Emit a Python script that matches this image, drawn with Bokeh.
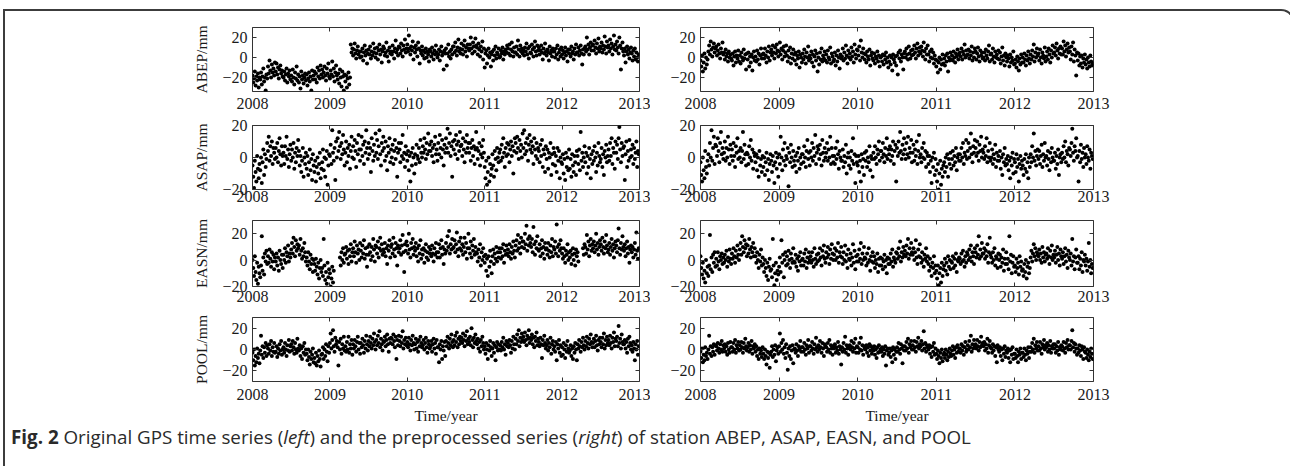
import numpy as np
from bokeh.plotting import figure
from bokeh.layouts import column, row
from bokeh.models import Div, Range1d, FixedTicker, LinearAxis
from bokeh.embed import file_html
from bokeh.resources import INLINE

# ---------------- data (100 samples per year, mm) ----------------
stations = ["ABEP", "ASAP", "EASN", "POOL"]
year_ticks = [2008, 2009, 2010, 2011, 2012, 2013]
y_ticks = [-20, 0, 20]
y_limits = {"ABEP": (-34, 30), "ASAP": (-20, 20), "EASN": (-20, 30), "POOL": (-30, 30)}

abep_original = [
    -18, -25, -21, -14, -28, -19, -23, -16, -30, -20, -22, -15, -27, -19, -11, -24, -20, -33, -17, -21,
    -9, -16, -3, -13, -20, -7, -15, -11, -18, -5, -14, -6, -17, -10, -21, -12, -8, -16, -13, -19,
    -20, -14, -23, -17, -11, -25, -16, -19, -13, -22, -18, -24, -12, -20, -27, -15, -21, -9, -23, -17,
    -25, -19, -31, -14, -22, -18, -26, -20, -16, -23, -17, -28, -21, -15, -24, -19, -33, -13, -22, -18,
    -14, -22, -16, -25, -10, -19, -13, -21, -8, -17, -12, -20, -15, -9, -18, -23, -11, -16, -6, -19,
    -21, -13, -17, -4, -19, -11, -24, -15, -8, -18, -22, -16, -26, -12, -20, -29, -14, -19, -33, -17,
    -24, -18, -30, -21, -15, -27, -20, 13, 5, 9, 2, 8, 14, 4, -1, 7, 11, 3, 6, 0,
    6, 1, 9, -3, 5, 12, 2, 7, -6, 4, 8, 3, 11, -1, 6, 2, 14, 5, 9, 0,
    4, 10, -2, 7, 13, 3, 8, -5, 6, 11, 9, 2, 5, 15, 1, 7, -4, 10, 4, 6,
    3, 12, 6, -1, 9, 17, 5, 8, 2, 11, 10, 4, 14, 7, 1, 12, 8, 18, 5, 9,
    13, 6, 22, 9, 3, 11, 7, 16, -2, 10, 5, 12, 8, 1, 15, 9, -6, 7, 4, 11,
    2, 7, -1, 5, 9, 0, 6, 3, -4, 8, 6, 1, 10, 4, -2, 7, 3, 12, 5, 0,
    3, 8, -3, 6, 11, 2, 5, -12, 7, 4, 9, -8, 4, 13, 1, 6, -1, 8, 3, 11,
    11, 5, 15, 7, 2, 10, 18, 6, 9, 4, 14, 8, 3, 12, 17, 6, 10, 1, 13, 9,
    7, 13, 20, 9, 4, 15, 11, 6, 19, 12, 10, 3, 14, 8, 1, 11, 6, 16, -2, 9,
    -10, 4, 7, -6, 2, 9, 0, 5, -9, 3, 6, -3, 8, 2, 11, -1, 5, 3, 9, 0,
    1, 7, 4, 10, -2, 6, 3, 8, 5, 12, 9, 4, 13, 2, 8, 15, 6, 1, 10, 5,
    5, 11, 3, 17, 8, 1, 12, 6, 9, 4, 7, 2, 10, 6, 14, 3, 9, -1, 11, 5,
    4, 13, 8, 1, 10, 16, 6, 2, 12, 7, 10, 3, 7, 12, 5, -2, 9, 4, 14, 6,
    2, 8, 5, -3, 11, 4, 7, 1, 9, 6, 6, 0, 9, 3, 12, -2, 5, 8, 1, 10,
    3, 7, -1, 5, 10, 2, 6, -4, 8, 4, 8, 1, 11, 4, 6, -2, 9, 3, 13, 5,
    5, 10, 2, 7, 12, 4, -7, 8, 3, 9, 11, 6, 20, 8, 13, 3, 10, 15, 7, 12,
    13, 7, 17, 10, 4, 14, 9, 19, 6, 11, 9, 15, 5, 12, 8, 21, 11, 4, 16, 10,
    12, 6, 18, 9, 14, 3, 11, 22, 8, 13, 7, 16, 10, 4, 20, 12, -12, 9, 15, 6,
    2, 9, -5, 6, 11, 3, 8, -1, 5, 10, 4, -3, 7, 1, 9, -2, 5, 0, -4, 3,
]
abep_processed = [
    -3, -9, 2, -14, -5, 4, -11, 0, -7, -2, 6, 12, 3, 16, 8, 1, 10, 14, 5, 9,
    11, 2, 7, 13, 4, -1, 9, 5, 15, 3, 5, -2, 8, 1, 4, -4, 6, 0, 3, -1,
    -3, 4, -8, 1, 6, -5, 2, -1, 7, -4, 2, -6, 5, 0, -3, 8, -1, 3, -12, 4,
    -2, 5, -9, 1, -5, 3, -13, 0, 6, -3, 1, -4, 7, -2, 4, -7, 2, 9, -1, 3,
    4, -1, 9, 2, -5, 6, 0, 11, -3, 5, 8, 2, 12, 5, -1, 10, 4, 13, 7, 1,
    6, 15, 3, 9, -2, 7, 11, 1, 5, 12, 2, -4, 7, 0, 10, -6, 4, -1, 8, 3,
    -3, 5, -7, 2, -1, 6, -10, 3, 0, -5, 4, -2, 8, 1, -6, 5, 0, 11, -3, 2,
    -1, 6, -5, 3, -9, 1, 7, -3, 4, -14, 0, -7, 5, -2, 9, -4, 2, -1, 6, -3,
    3, -5, 7, 0, -2, 10, -6, 4, 1, -4, -2, 5, -8, 2, -4, 7, 0, -11, 3, -1,
    1, 9, -3, 5, -1, 12, 2, -6, 7, 0, 4, -2, 10, 1, 6, -5, 13, 3, -1, 8,
    7, 2, 11, -3, 17, 5, 0, 9, 4, -2, 3, -5, 6, 1, -2, 8, -8, 2, 5, -1,
    -3, 4, -6, 1, -1, 6, -4, 2, -9, 0, 1, -4, 3, -7, 2, -2, 5, -5, 0, -10,
    -4, 2, -7, 0, -13, 3, -2, -5, 1, -8, 2, -17, 5, -1, 7, -4, 3, 0, -12, 4,
    6, 0, 9, 3, -2, 11, 4, -1, 7, 2, 8, 3, 12, 5, -1, 9, 14, 2, 6, 10,
    4, 11, 7, 1, 15, 6, -2, 9, 3, 12, 3, -4, 6, 0, 8, -1, 5, -6, 2, -2,
    -9, -3, -15, -5, 0, -12, -2, -7, 3, -6, -1, -8, 2, -4, 4, -14, 0, -3, 5, -2,
    2, -3, 6, 0, -5, 4, 1, 8, -2, 3, 5, 1, 9, -2, 6, 3, 13, 0, 7, 2,
    3, 8, -1, 6, 2, 11, -3, 5, 0, 9, 6, -2, 4, 10, 1, -4, 7, 2, 5, -1,
    0, 5, -3, 8, 2, -1, 6, 12, -4, 3, 4, -2, 9, 1, -5, 6, 0, 3, -1, 7,
    -2, 5, -6, 1, 10, -3, 2, -8, 4, 0, -4, 2, -1, -9, 3, -5, 0, -3, 6, -7,
    -6, -2, -10, 1, -4, -13, -1, -7, 3, -5, 0, -5, 4, -2, -8, 2, -3, 6, -1, -6,
    3, -2, 7, 1, 13, -4, 5, 0, 9, 2, 4, -3, 8, 0, -6, 5, 2, -1, 10, -4,
    1, 6, -2, 9, 3, -5, 7, 0, 12, 4, 5, 10, 2, 14, 7, -1, 9, 4, 11, 3,
    9, 3, 16, 6, 12, 1, 8, 14, 5, 10, 6, -2, 11, 3, 15, -4, 8, 2, -18, 5,
    -3, 4, -8, 1, -6, 2, -10, -1, -5, 3, -7, -2, -11, 0, -5, -9, 2, -4, -8, -6,
]
asap_original = [
    -5, -12, -19, -2, -9, -15, 1, -7, -13, -4, -8, 0, -16, -3, 5, -11, 2, -6, -1, 9,
    4, 13, -2, 7, 1, 10, -4, 6, 3, -1, 6, 0, 9, -3, 4, 12, 2, -5, 7, 1,
    3, -4, 7, 1, 13, -1, 5, -6, 2, 8, -2, 5, 0, 9, -7, 3, -3, 6, 1, 11,
    4, -5, 1, -9, -2, 6, -12, 0, -4, 3, -7, 1, -11, -3, 5, -8, -1, -14, 2, -5,
    -9, -2, -15, -6, 0, -10, -4, 3, -13, -7, -3, 5, -8, 0, -12, -1, 4, -17, -5, 2,
    1, 8, -4, 17, 3, -2, 6, -14, 10, 0, 12, 4, 16, 7, -1, 9, 2, 14, 5, -5,
    3, 10, -3, 6, 1, 8, -7, 4, 13, 0, 7, -1, 11, 4, -6, 9, 2, 14, 5, -2,
    5, 13, 1, 8, -4, 10, 3, 17, 6, -1, 9, 2, 6, -9, 12, 4, -2, 8, 1, 15,
    3, 11, -1, 7, 17, 2, -5, 9, 4, 13, 6, -2, 10, 1, -8, 7, 3, 12, -3, 5,
    0, 8, -4, 4, 11, -1, 6, -12, 3, 9, 5, -3, 9, 1, 14, -1, 3, -6, 7, 2,
    -2, 4, -8, 1, -15, 3, -5, 6, 0, -10, 2, -4, 8, 1, -1, 6, -3, 11, 3, 0,
    7, 3, 12, 5, -1, 9, 2, 15, 4, 8, 4, 10, 1, 6, -3, 8, 13, 2, 5, -2,
    9, 2, 14, 6, 0, 11, 5, -5, 8, 3, 12, 6, 18, 3, 9, 15, 1, 7, -12, 10,
    5, 11, 2, 14, 8, -1, 10, 4, 16, 7, 8, 1, 12, 5, -3, 10, 3, 14, 6, 9,
    3, 9, -2, 6, 11, 1, 7, -4, 5, 16, 6, -1, 4, 9, -5, 2, 7, 0, 11, 3,
    -6, -13, -2, -17, -9, 0, -15, -4, -11, -7, 2, -5, -12, 4, -1, -8, 6, 0, -3, 3,
    5, -2, 8, 0, 12, 3, -6, 6, 1, 9, 2, 8, -3, 5, 10, 1, 7, -10, 4, 12,
    9, 3, 13, 6, -1, 11, 4, 8, 0, 15, 6, 17, 2, 9, 4, 12, -2, 8, 14, 5,
    10, 3, 7, -4, 12, 5, 1, 9, -1, 6, 4, -3, 8, 1, 11, -6, 5, 2, -9, 7,
    -1, 5, -7, 3, 0, 9, -11, 2, -4, 6, 3, -5, 1, -9, 6, -2, 4, -13, 0, -3,
    -4, 2, -10, -1, -14, 3, -6, 0, -8, 5, -7, -1, -12, 2, -5, -9, 1, -3, -11, 4,
    1, -4, 5, -8, 16, -2, 3, -6, 0, 7, -3, 3, -10, 1, -6, 6, -1, -13, 2, -4,
    4, -2, 7, 0, -9, 3, -5, 9, 1, -3, -1, 6, -6, 2, -11, 4, 0, 8, -3, 1,
    5, -2, 9, 1, 12, -4, 6, 3, -7, 10, 3, 8, -1, 12, 19, 5, -3, 9, 1, 6,
    7, -14, 2, 10, -6, 4, -2, 11, 0, 5, 1, 8, -4, 6, -1, 3, 10, -6, 4, 2,
]
asap_processed = [
    -3, -11, -15, 0, -8, -13, 4, -6, -10, -2, 2, -5, 9, 0, 17, -2, 6, 13, -4, 8,
    7, 1, 12, 4, -3, 9, 16, 2, 6, -1, 3, 10, -2, 6, 0, 13, 5, -4, 8, 1,
    5, -2, 9, 1, -6, 7, 3, 12, -1, 4, 0, 6, -3, 4, 16, -1, 8, 2, -5, 3,
    2, -4, 7, 0, 11, -2, 5, -7, 3, 1, -3, 2, -8, 0, -12, 4, -5, -1, -9, 1,
    -6, 0, -11, -3, 3, -8, -1, -14, -4, 2, -2, -9, 1, -5, -16, -3, 3, -7, 0, -12,
    2, -4, 13, 0, -8, 5, -2, 9, -5, 1, -1, 6, -18, 3, -3, 8, 0, -6, 4, -2,
    -5, 1, -9, 3, -2, 6, -7, 0, -4, 2, 2, -3, 7, 0, -6, 4, 11, -1, 3, -5,
    4, 0, 9, -2, 6, 1, 14, -4, 3, 7, 5, -1, 8, 2, -5, 11, 3, -2, 6, 0,
    3, 9, -2, 5, 0, 13, -4, 6, 1, -3, 1, -4, 6, -1, 10, 2, -7, 4, 0, -2,
    -2, 5, -6, 1, -3, 8, -10, 0, 3, -5, 0, -7, 4, -2, 12, -4, 2, -16, 1, -3,
    -5, 1, -9, -2, -15, 2, -6, -1, -11, 3, -2, 4, -6, 0, -3, 7, -8, 1, -1, -12,
    3, -1, 7, 0, -4, 5, 2, 10, -2, 4, 4, 0, 9, 2, -3, 6, 1, 12, -1, 5,
    2, 7, -2, 5, 1, 10, -4, 4, 8, -15, 6, 1, 10, 3, 16, 4, -1, 8, 2, 12,
    5, -1, 9, 2, 13, 0, 6, 3, 11, -3, 3, 8, -2, 5, 1, 10, -4, 4, 14, 0,
    2, -3, 6, 0, 9, -1, 4, -6, 3, 1, -4, 1, -9, -2, -16, 0, -6, 3, -11, -1,
    -8, -15, -4, -20, -10, -2, -17, -7, -12, -5, -3, -9, 0, -6, 2, -12, -1, -4, 3, -7,
    -1, 4, -5, 1, -3, 6, -8, 0, 2, -2, 2, -2, 6, 0, 9, -4, 3, 1, 11, -1,
    4, 9, 0, 6, 15, 2, -3, 7, 3, 11, 6, 1, 10, 3, -2, 8, 4, 13, 0, 5,
    3, -1, 7, 1, 12, -3, 4, 0, 9, -2, 0, 5, -4, 2, -1, 8, -6, 3, -2, 1,
    -2, 4, -7, 0, -11, 2, -3, 6, -5, -1, -4, 1, -8, -2, -13, 0, -5, 3, -10, -1,
    -3, -9, 2, -6, -1, -15, -4, 1, -7, -2, -5, -11, -1, -7, 2, -9, -3, -13, 0, -6,
    2, -3, 7, 0, 15, -2, 4, -5, 1, 5, -1, 4, -4, 1, 8, -6, 2, -2, 9, 0,
    1, -5, 4, -1, -8, 3, -3, 6, 0, -2, -2, 3, -7, 1, -4, 5, -11, 0, 2, -3,
    3, -1, 7, 0, 10, -3, 4, 2, -5, 6, 5, 1, 9, 18, 3, -2, 7, 4, 12, 0,
    1, -15, 4, -3, 8, -1, 3, -6, 6, 0, 2, -4, 7, 0, -2, 5, -7, 3, 1, -1,
]
easn_original = [
    0, -6, -12, 3, -9, -15, -2, -18, -5, -10, -13, -4, 18, -8, 2, -11, 5, -1, 7, -3,
    3, -2, 8, 1, -5, 6, -1, 4, -7, 2, -1, 5, -4, 2, -8, 7, 0, -3, 4, -6,
    4, 0, 9, -2, 6, 3, 11, -1, 5, 2, 8, 13, 5, 17, 10, 3, 15, 7, 12, 9,
    11, 4, 16, 7, 1, 9, 3, 13, 6, -1, 2, -4, 6, -1, -7, 4, -3, 1, -9, 0,
    -3, -8, 1, -5, -11, -2, -14, -6, 0, -9, -6, -12, 16, -4, -15, -9, -18, -2, -13, -7,
    -10, -20, -14, -5, -17, -8, None, None, None, None, None, None, None, 2, -4, 6, 0, 9, -2, 4,
    5, 10, 1, 7, -3, 8, 3, 12, -1, 6, 9, 3, 14, 6, -2, 11, 5, 8, 0, 13,
    7, 2, 11, 5, 15, 1, 9, 4, -5, 10, 4, 12, 6, 0, 10, 3, 16, 8, -1, 11,
    10, 5, 14, 2, 9, 17, 7, 12, 4, 8, 6, 13, 3, 9, -3, 11, 7, 15, 2, 10,
    12, 5, 17, 8, 3, 13, 9, -4, 11, 6, 9, 15, 4, 11, 19, 6, -9, 12, 7, 14,
    11, 5, 20, 8, 2, 13, 9, 16, 4, 10, 7, 13, 3, 9, -1, 11, 5, 15, 1, 8,
    4, 9, -2, 7, 12, 2, 6, 0, 10, 5, 8, 3, 11, 5, -1, 9, 4, 13, 6, 2,
    6, 12, 2, 9, 15, 4, 10, -3, 8, 5, 13, 7, 18, 10, 22, 5, 12, 8, 16, 9,
    10, 15, 6, 12, 21, 8, 3, 14, 9, 17, 7, 12, 4, 10, 17, 6, 13, 1, 9, 20,
    9, 5, 14, 2, 11, 7, 16, 4, 10, 6, 5, -1, 8, 2, 12, -4, 6, 0, 9, 3,
    -2, 4, -8, 1, -12, 3, -5, 7, -1, -10, 3, 8, -3, 5, 1, 10, -1, 6, 2, 9,
    6, 1, 9, 3, 12, -2, 7, 4, 11, 5, 8, 3, 12, 6, 1, 10, 5, 14, 7, 2,
    11, 15, 7, 19, 9, 13, 5, 17, 10, 14, 14, 9, 20, 12, 26, 7, 16, 11, 18, 13,
    10, 16, 6, 25, 12, 4, 14, 9, 18, 8, 7, 12, 3, 9, 15, 5, 10, 1, 13, 8,
    9, 4, 13, 7, 2, 11, 6, 16, 3, 10, 8, 14, 5, 27, 10, 3, 12, 7, 15, 9,
    5, 1, 9, 3, -2, 7, 4, 12, 0, 6, 2, 7, -3, 4, 9, 0, 5, -4, 8, 3,
    6, -1, None, None, None, None, None, 9, 4, 12, 10, 5, 19, 8, 14, 3, 11, 16, 7, 12,
    9, 14, 6, 11, 20, 8, 13, 4, 10, 15, 12, 7, 17, 10, 5, 14, 9, 19, 11, 6,
    8, 13, 4, 10, 16, 7, 12, 2, 9, 14, 11, 6, 15, 24, 9, 4, 13, 8, 18, 10,
    7, 12, 3, 9, 14, 5, 10, -2, 8, 11, 6, 10, 2, 8, 13, 4, 21, 7, 1, 9,
]
easn_processed = [
    3, -6, -11, -2, -14, -8, -17, 0, -10, -5, -12, -4, 19, -7, 2, -9, 4, -2, 6, -5,
    1, -4, 6, -1, -7, 3, 0, 5, -3, 2, -2, 4, 0, 7, -5, 2, -1, 8, 1, -3,
    5, 1, 9, 3, -2, 7, 2, 11, 4, 0, 8, 13, 4, 18, 10, 6, 15, 9, 12, 3,
    11, 5, 16, 8, 2, 10, 6, 13, 3, 9, 3, -2, 6, 0, -6, 4, -1, 8, -4, 2,
    -3, -9, 0, -6, -12, -2, -15, -5, 1, -8, -7, -13, 16, -4, -19, -10, -2, -15, -8, -11,
    -5, 2, -9, 15, -2, 4, -13, 0, 6, -4, 3, -3, 7, 0, -6, 5, 1, -2, 9, -1,
    -2, 4, -5, 1, -8, 3, -1, 6, -4, 0, 1, -4, 5, -1, 8, -6, 2, -2, 6, 0,
    3, -2, 6, 0, -5, 9, 1, -3, 4, -1, 5, 0, 9, 2, -4, 7, 3, 11, 1, -2,
    6, 2, 10, 4, -3, 8, 1, 12, 5, 0, 4, 9, 0, 7, 2, 13, -2, 6, 3, 10,
    2, -3, 6, 0, 11, -1, 4, -6, 8, 1, 0, 5, -4, 2, 12, -2, 7, -7, 3, -1,
    4, -1, 8, 1, 13, -3, 5, 0, 10, 2, 1, -4, 5, -2, 9, 0, -8, 3, -1, 6,
    -2, 3, -6, 0, -3, 5, -9, 1, -4, 2, -4, 1, -7, -1, 4, -5, 0, -10, 2, -3,
    1, -3, 5, -1, 8, -5, 2, 0, -2, 6, 5, 1, 9, 3, 14, -1, 6, 2, 10, 4,
    7, 3, 11, 5, 16, 1, 9, 4, 13, 6, 4, 9, 0, 6, 15, 2, -3, 8, 3, 12,
    2, -2, 6, 0, -5, 4, 1, 9, -1, 3, -3, -8, 1, -5, -12, -2, -6, 3, -10, -4,
    -8, -14, -4, -19, -10, -6, -17, -2, -12, -7, -4, 1, -8, -2, -11, 3, -5, 0, -7, -1,
    -2, 3, -6, 1, -4, 5, -9, 0, -1, 2, 1, -3, 5, -1, 7, 0, -5, 3, -2, 6,
    4, 0, 8, 2, 11, -1, 6, 3, -3, 9, 6, 2, 11, 4, 18, 1, 8, 3, 13, 5,
    5, 9, 1, 7, 3, 12, -2, 6, 17, 4, 2, -2, 6, 0, 9, -4, 3, 1, -6, 5,
    0, 4, -5, 2, -2, 8, -8, 1, -3, 6, -3, 1, -7, 18, -1, 4, -10, -2, 3, -5,
    -4, -9, 1, -6, -2, -11, 3, -5, -1, -8, -7, -12, -3, -9, 0, -14, -5, -2, -10, -6,
    2, 7, -1, 5, 12, 3, 9, 0, 6, 4, 3, 8, 0, 5, -2, 10, 2, 6, -1, 4,
    5, 1, 9, 3, -3, 7, 2, 11, 0, 4, 2, 7, -2, 4, 10, 0, 5, -4, 8, 3,
    1, 6, -3, 3, 9, -1, 4, -6, 7, 2, 0, 5, -4, 16, -1, 3, -7, 2, 8, -2,
    -2, 3, -7, 1, -4, 6, -9, 0, -1, 4, -4, 1, -8, -1, 13, -5, 0, -10, -3, -6,
]
pool_original = [
    -3, -10, 0, -15, -6, -12, 1, -8, -4, -13, -1, 13, -5, 3, -8, 2, -3, 6, -6, 4,
    1, -4, 5, -1, 8, -6, 2, -2, 6, -3, -2, 3, -7, 1, -4, 5, -1, 8, -5, 0,
    2, -3, 6, 0, -6, 4, -1, 9, -2, 3, 5, -1, 8, 2, -4, 6, 0, -3, 10, 1,
    -1, 4, -6, 1, -9, 3, -3, 6, -5, 0, -4, -10, 0, -7, -14, -2, -9, -5, 1, -12,
    -8, -13, -3, -15, -6, -11, -1, -9, -16, -5, -4, 2, -9, 0, -6, 5, -2, -11, 3, -3,
    6, 15, 1, 9, 18, 3, -2, 11, 5, 8, 2, -15, 7, 0, 10, -4, 5, 1, 12, -1,
    3, -2, 7, 0, 12, -3, 5, 1, 9, -5, 5, 1, 9, 3, -2, 7, 12, 0, 6, -4,
    6, 2, 10, 4, -3, 8, 1, 13, 5, -1, 8, 3, 12, 6, 1, 10, 4, 15, 7, 0,
    9, 4, 13, 6, 17, 2, 10, 5, -1, 8, 7, 12, 3, 9, 14, 5, -2, 10, 6, 11,
    10, 5, 14, 8, 2, 12, -9, 9, 4, 13, 8, 3, 12, 6, 17, 1, 9, 5, 11, 4,
    7, 2, 11, 5, -1, 9, 4, 13, 6, 0, 5, 10, 1, 7, -2, 9, 3, 12, 6, 2,
    4, 9, 0, 6, 11, 2, -3, 8, 5, 1, 3, 8, -2, 5, 10, 1, 6, -4, 9, 2,
    2, -12, 5, 0, 8, -9, 3, -1, 7, -6, 8, 3, 12, 6, 1, 10, 4, 14, 7, 2,
    9, 4, 13, 7, 16, 2, 10, 5, 12, 8, 11, 6, 15, 9, 3, 13, 8, 17, 5, 10,
    7, 12, 4, 20, 9, 2, 11, 6, 14, 8, 5, 10, 1, 7, -2, 9, 3, 12, 6, 0,
    3, -4, 6, 0, -9, 4, -1, 8, 2, -6, 1, 6, -3, 4, -10, 2, 7, -1, 5, 0,
    4, -1, 7, 2, 11, 0, 5, -5, 8, 3, 6, 2, 9, 4, -3, 8, 1, 12, 5, 0,
    10, 5, 14, 8, 18, 3, 11, 7, 15, 9, 12, 7, 16, 9, 4, 13, 10, 18, 6, 11,
    9, 14, 5, 11, 2, 12, 8, 16, 4, 10, 7, 3, 11, 5, -8, 9, 4, 13, 6, 1,
    4, 9, -1, 6, 2, 11, -4, 5, 8, 0, 3, -2, 7, -10, 5, 1, 9, -3, 4, -6,
    2, -5, 6, 0, -8, 4, -2, 8, 1, -3, -1, 4, -6, 1, -9, 3, -3, 6, 0, -10,
    5, 1, 9, 3, -2, 7, 2, 11, 4, 0, 8, 3, 12, 6, 1, 10, 5, 14, 7, 2,
    6, 10, 2, 8, 13, 4, -1, 9, 5, 11, 7, 2, 11, 5, 15, 1, 9, 4, 12, 6,
    9, 4, 13, 6, 1, 11, 7, 16, 3, 10, 8, 12, 3, 22, 6, 10, 1, 14, 7, 5,
    5, 9, 1, 7, -3, 10, 3, 12, 6, 0, 4, -2, 7, 1, -10, 5, 0, 8, -5, 3,
]
pool_processed = [
    -2, -8, 1, -12, -5, -10, 2, -6, -3, -9, 0, 13, -4, 3, -6, 2, -2, 5, -5, 4,
    3, -1, 6, 1, -3, 5, 0, 8, -2, 4, 1, 5, -2, 3, -5, 6, 0, -3, 7, 2,
    2, -2, 6, 0, 9, -3, 4, 1, 7, -1, 4, 0, 7, 2, -3, 6, 1, 10, 3, -1,
    2, 6, -2, 4, 0, 8, -4, 3, 1, 5, -2, 3, -6, 0, -9, 1, -4, -1, -7, 2,
    -4, -9, 0, -6, -14, -2, -8, -3, -17, -5, -2, 3, -7, 0, -5, 4, -11, -1, 2, -4,
    3, 15, -2, 6, 0, 9, -4, 2, -8, 5, -3, -19, 1, -6, 3, -9, -1, 4, -13, 0,
    1, -3, 5, -1, -6, 3, 0, 8, -2, 2, 2, -2, 6, 0, -5, 4, 1, 9, -3, 3,
    3, -1, 7, 1, -4, 5, 0, 11, 2, -2, 4, 0, 8, 2, -3, 6, 1, -6, 5, 3,
    2, -2, 6, 0, 9, -3, 4, 1, -5, 3, 1, 5, -3, 2, -1, 7, -4, 3, 0, -14,
    2, -2, 6, 0, 12, -3, 4, 1, -5, 3, 4, 0, 8, 2, -2, 6, 1, 10, -3, 3,
    2, -3, 6, 0, 11, -1, 4, -5, 3, 1, 0, 4, -3, 2, -6, 5, -1, 3, -4, 1,
    -1, 3, -5, 0, -8, 2, -3, 4, -2, 0, -2, 2, -6, 0, -4, 3, -15, -1, 1, -5,
    -3, 1, -7, -1, -12, 2, -5, 0, -9, -2, 2, -2, 6, 0, -4, 5, 1, -13, 3, -1,
    3, -1, 7, 1, 10, -3, 5, 2, 8, 0, 4, 0, 8, 2, -2, 7, 3, 11, 1, 5,
    3, 8, -1, 5, 17, 1, 6, -2, 4, 2, 0, 4, -4, 2, -7, 3, -2, 6, -5, 1,
    -4, -9, -1, -6, -13, -3, -8, 0, -11, -5, -3, -8, 0, -5, -10, -2, -7, 1, -4, -6,
    -1, 3, -5, 0, -8, 2, -3, 4, -2, 1, 1, -3, 5, -1, 3, -5, 2, 7, -2, 0,
    4, 0, 8, 2, 13, -2, 5, 1, 9, 3, 5, 1, 9, 3, -1, 7, 2, 12, 4, 6,
    3, 7, -1, 5, 1, 10, -3, 4, 8, 2, 1, -3, 5, -1, 3, -6, 2, -12, 4, 0,
    -2, 2, -6, 0, -10, 1, -4, 3, -7, -1, -3, 1, -8, -1, -12, 0, -5, 2, -9, -4,
    -4, -8, 0, -6, -12, -2, -5, 1, -9, -3, -3, -7, 1, -5, -10, -1, -4, 2, -8, -2,
    2, -2, 6, 0, 10, -3, 4, 1, 7, -1, 3, -1, 7, 1, -4, 5, 2, 9, 0, 4,
    2, 6, -2, 4, 0, 8, -3, 3, 1, 5, 1, 5, -3, 3, -1, 7, -5, 2, 0, 4,
    3, -1, 7, 1, -3, 6, 2, 9, 0, 4, 4, 0, 8, 18, 2, 6, -2, 5, 1, -5,
    1, -3, 4, -1, -6, 3, 0, -9, 2, -2, -3, -8, 0, -5, -10, -2, -7, 1, -4, -9,
]

original = {"ABEP": abep_original, "ASAP": asap_original, "EASN": easn_original, "POOL": pool_original}
processed = {"ABEP": abep_processed, "ASAP": asap_processed, "EASN": easn_processed, "POOL": pool_processed}

# ---------------- layout ----------------
# per row: figure height, top border, bottom border, tick-label standoff
ROWS = [(103, 16, 23, 6), (96, 11, 21, 1), (100, 10, 24, 4), (116, 7, 44, 7)]
COLS = {True: (645, 247, 11), False: (635, 50, 192)}
SERIF = "Liberation Serif"
INK = "#1a1a1a"


def style_axis(ax, labels):
    ax.axis_line_color = None
    ax.major_tick_in = 4
    ax.major_tick_out = 0
    ax.major_tick_line_color = "#333333"
    ax.minor_tick_line_color = None
    ax.major_label_text_font = SERIF
    ax.major_label_text_font_size = "16px"
    ax.major_label_text_color = INK if labels else None
    ax.axis_label_text_font = SERIF
    ax.axis_label_text_font_size = "15.5px"
    ax.axis_label_text_font_style = "normal"
    ax.axis_label_text_color = INK


def make_panel(vals, station, left_col, r):
    h, top, bottom, standoff = ROWS[r]
    w, bl, br = COLS[left_col]
    ylo, yhi = y_limits[station]
    p = figure(width=w, height=h, x_range=Range1d(2008, 2013), y_range=Range1d(ylo, yhi),
               output_backend="svg", toolbar_location=None,
               min_border_left=bl, min_border_right=br, min_border_top=top, min_border_bottom=bottom)
    y = np.array(vals, dtype=float)
    x = np.linspace(2008, 2013, len(y), endpoint=False)
    p.scatter(x, y, size=4.0, marker="circle", fill_color="black", line_color=None)
    p.grid.visible = False
    p.outline_line_color = "#333333"
    p.outline_line_width = 1
    p.background_fill_color = "white"
    p.border_fill_color = "white"

    p.xaxis.ticker = FixedTicker(ticks=year_ticks)
    p.yaxis.ticker = FixedTicker(ticks=y_ticks)
    p.yaxis.major_label_overrides = {-20: "\u221220"}
    for ax in p.xaxis + p.yaxis:
        style_axis(ax, True)
    p.xaxis.major_label_standoff = standoff
    p.yaxis.major_label_standoff = 5
    if left_col:
        p.yaxis.axis_label = f"{station}/mm"
        p.yaxis.axis_label_standoff = 9
    if r == 3:
        p.xaxis.axis_label = "Time/year"
        p.xaxis.axis_label_standoff = 4

    top_ax = LinearAxis(ticker=FixedTicker(ticks=year_ticks))
    right_ax = LinearAxis(ticker=FixedTicker(ticks=y_ticks))
    for ax in (top_ax, right_ax):
        style_axis(ax, False)
        ax.major_label_standoff = 0
    p.add_layout(top_ax, "above")
    p.add_layout(right_ax, "right")
    return p


rows = []
for r, st in enumerate(stations):
    rows.append(row(make_panel(original[st], st, True, r), make_panel(processed[st], st, False, r)))

caption = Div(
    text="<b>Fig. 2</b> Original GPS time series (<i>left</i>) and the preprocessed series "
         "(<i>right</i>) of station ABEP, ASAP, EASN, and POOL",
    width=1278, height=36,
    styles={"font-family": "Open Sans", "font-size": "18.8px", "color": "#2a2a2a",
            "padding-left": "1px", "line-height": "22px", "position": "relative", "top": "-5px"},
)

layout = column(*rows, caption, margin=(9, 0, 0, 3),
                styles={"border-top": "2px solid #3c3c3c", "border-left": "2px solid #3c3c3c",
                        "border-right": "2px solid #3c3c3c", "border-top-right-radius": "14px",
                        "background": "white"})

open("out.html", "w").write(file_html(layout, INLINE))
